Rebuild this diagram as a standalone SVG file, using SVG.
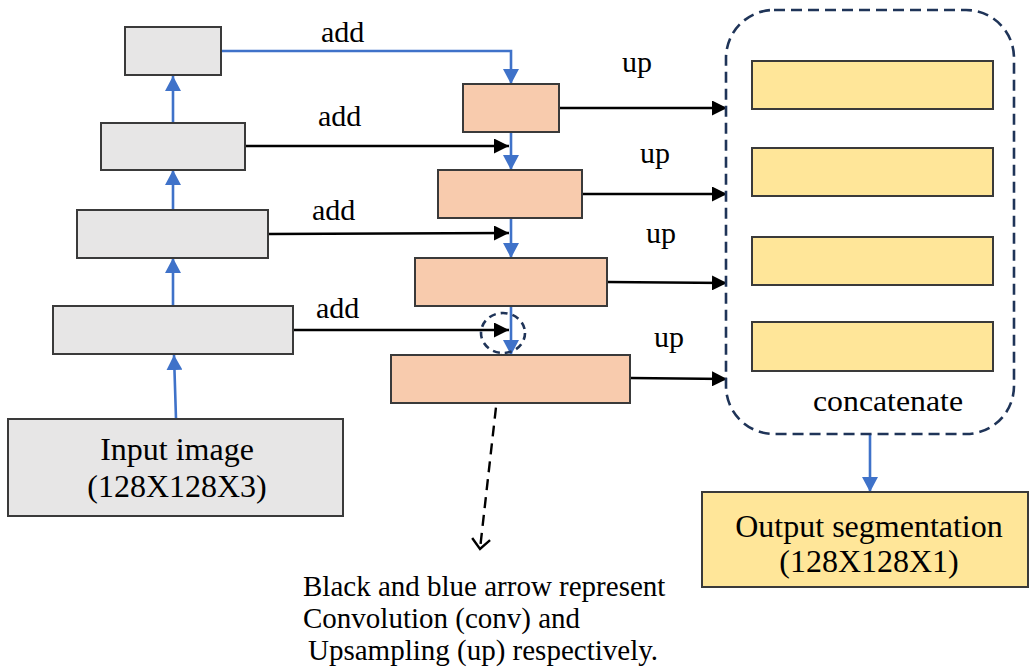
<svg xmlns="http://www.w3.org/2000/svg" width="1030" height="672" viewBox="0 0 1030 672">
  <style>
    .enc { fill: #e7e6e6; stroke: #3a3a3a; stroke-width: 2; }
    .dec { fill: #f8cbad; stroke: #3a3a3a; stroke-width: 2; }
    .cat { fill: #ffe699; stroke: #3a3a3a; stroke-width: 2; }
    .blue { stroke: #3f72c9; stroke-width: 2.6; fill: none; }
    .black { stroke: #000; stroke-width: 2.6; fill: none; }
    .navy { stroke: #1f3458; stroke-width: 2.6; fill: none; stroke-dasharray: 11 6; }
    text { font-family: "Liberation Serif", "Times New Roman", serif; fill: #000; }
    .lbl { font-size: 30px; }
    .big { font-size: 32px; }
    .note { font-size: 29px; }
  </style>
  <defs>
    <marker id="ab" markerUnits="userSpaceOnUse" markerWidth="16" markerHeight="16" refX="15" refY="8" orient="auto">
      <path d="M0,0 L15,8 L0,16 z" fill="#3f72c9"/>
    </marker>
    <marker id="ak" markerUnits="userSpaceOnUse" markerWidth="16" markerHeight="15" refX="15" refY="7.5" orient="auto">
      <path d="M0,0 L15,7.5 L0,15 z" fill="#000"/>
    </marker>
    <marker id="av" markerUnits="userSpaceOnUse" markerWidth="24" markerHeight="24" refX="12" refY="12" orient="auto">
      <path d="M2,3 L12,12 L2,21" fill="none" stroke="#000" stroke-width="2.4"/>
    </marker>
  </defs>

  <rect width="1030" height="672" fill="#fff"/>

  <g id="connectors">
    <line class="blue" x1="176" y1="419" x2="174" y2="355" marker-end="url(#ab)"/>
    <line class="blue" x1="173" y1="306" x2="173" y2="258" marker-end="url(#ab)"/>
    <line class="blue" x1="173" y1="210" x2="173" y2="170" marker-end="url(#ab)"/>
    <line class="blue" x1="173" y1="122" x2="173" y2="76" marker-end="url(#ab)"/>
    <polyline class="blue" points="221,51 511,51 511,84" marker-end="url(#ab)"/>
    <line class="blue" x1="511" y1="132" x2="511" y2="170" marker-end="url(#ab)"/>
    <line class="blue" x1="511" y1="218" x2="511" y2="258" marker-end="url(#ab)"/>
    <line class="blue" x1="511" y1="306" x2="511" y2="355" marker-end="url(#ab)"/>
    <line class="black" x1="245" y1="146" x2="509" y2="146" marker-end="url(#ak)"/>
    <line class="black" x1="268" y1="234" x2="509" y2="233" marker-end="url(#ak)"/>
    <line class="black" x1="293" y1="330" x2="509" y2="330" marker-end="url(#ak)"/>
    <line class="black" x1="559" y1="108" x2="727" y2="108" marker-end="url(#ak)"/>
    <line class="black" x1="582" y1="194" x2="727" y2="194" marker-end="url(#ak)"/>
    <line class="black" x1="607" y1="282" x2="727" y2="283" marker-end="url(#ak)"/>
    <line class="black" x1="630" y1="378" x2="727" y2="379" marker-end="url(#ak)"/>
    <line class="blue" x1="870" y1="434" x2="870" y2="492" marker-end="url(#ab)"/>
    <ellipse cx="503" cy="333" rx="22" ry="20" fill="none" stroke="#1f3458" stroke-width="2.6" stroke-dasharray="7 5"/>
    <line x1="502" y1="354" x2="480" y2="549" stroke="#000" stroke-width="2.4" stroke-dasharray="11 7" marker-end="url(#av)"/>
  </g>

  <g id="enc1"><rect class="enc" x="125" y="27" width="96" height="48"/></g>
  <g id="enc2"><rect class="enc" x="101" y="123" width="144" height="47"/></g>
  <g id="enc3"><rect class="enc" x="77" y="210" width="191" height="48"/></g>
  <g id="enc4"><rect class="enc" x="53" y="306" width="240" height="48"/></g>
  <g id="input">
    <rect class="enc" x="8" y="419" width="335" height="97"/>
    <text class="big" x="177" y="460" text-anchor="middle">Input image</text>
    <text class="big" x="177" y="497" text-anchor="middle">(128X128X3)</text>
  </g>

  <g id="dec1"><rect class="dec" x="463" y="84" width="96" height="48"/></g>
  <g id="dec2"><rect class="dec" x="438" y="170" width="144" height="48"/></g>
  <g id="dec3"><rect class="dec" x="415" y="258" width="192" height="48"/></g>
  <g id="dec4"><rect class="dec" x="391" y="355" width="239" height="48"/></g>

  <g id="concat">
    <rect class="navy" x="726" y="10" width="288" height="424" rx="48" ry="48"/>
    <rect class="cat" x="752" y="61" width="241" height="48"/>
    <rect class="cat" x="752" y="148" width="241" height="48"/>
    <rect class="cat" x="752" y="237" width="241" height="48"/>
    <rect class="cat" x="752" y="322" width="241" height="49"/>
    <text x="813" y="411" font-size="30" textLength="150" lengthAdjust="spacingAndGlyphs">concatenate</text>
  </g>

  <g id="output">
    <rect class="cat" x="702" y="492" width="326" height="95"/>
    <text x="869" y="537" text-anchor="middle" font-size="32">Output segmentation</text>
    <text x="869" y="572" text-anchor="middle" font-size="32">(128X128X1)</text>
  </g>

  <g id="labels">
    <text class="lbl" x="321" y="42">add</text>
    <text class="lbl" x="318" y="126">add</text>
    <text class="lbl" x="312" y="220">add</text>
    <text class="lbl" x="316" y="318">add</text>
    <text class="lbl" x="622" y="72">up</text>
    <text class="lbl" x="640" y="163">up</text>
    <text class="lbl" x="646" y="243">up</text>
    <text class="lbl" x="654" y="347">up</text>
  </g>

  <g id="legend">
    <text class="note" x="303" y="596">Black and blue arrow represent</text>
    <text class="note" x="303" y="628">Convolution (conv) and</text>
    <text class="note" x="308" y="660">Upsampling (up) respectively.</text>
  </g>
</svg>
